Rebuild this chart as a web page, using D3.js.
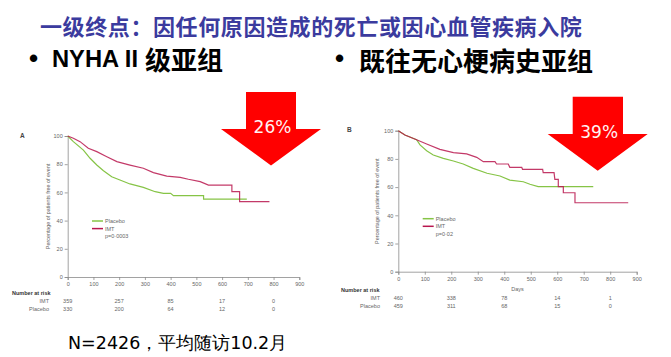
<!DOCTYPE html>
<html><head><meta charset="utf-8">
<script src="https://cdn.jsdelivr.net/npm/d3@7/dist/d3.min.js"></script>
<style>body{margin:0;background:#fff;}svg{display:block;}</style>
</head><body>
<script>
// ---- data ----
const titleText = "一级终点：因任何原因造成的死亡或因心血管疾病入院";
const subLeft = ["NYHA II", "级亚组"];
const subRight = "既往无心梗病史亚组";
const footText = "N=2426，平均随访10.2月";
const xTicks = [0,100,200,300,400,500,600,700,800,900];
const yTicks = [0,20,40,60,80,100];
const riskDays = [0,200,400,600,800];
const riskA_IMT = [359,257,85,17,0];
const riskA_Placebo = [330,200,64,12,0];
const riskB_IMT = [460,338,78,14,1];
const riskB_Placebo = [459,311,68,15,0];
const reductionA = "26%";
const reductionB = "39%";
const pA = "p=0·0003";
const pB = "p=0·02";
const kmA_IMT = [[0,100],[22,98.4],[48,96],[80,91.3],[113,88.9],[152,85.3],[191,81.8],[242,79.4],[294,77.1],[333,74],[385,71.6],[437,70.7],[469,69.3],[515,67.6],[547,65.2],[638,65.2],[638,60.5],[668,60.5],[668,53.4],[784,53.4]];
const kmA_Placebo = [[0,100],[22,96],[61,90],[87,84.2],[113,79.4],[139,75.4],[171,71.1],[203,68.8],[242,66],[294,63.6],[340,60.5],[372,59.3],[400,59.3],[411,57.7],[528,57.7],[528,55.3],[696,55.3]];
const kmB_IMT = [[0,100],[25,97],[69,93.6],[107,90.6],[157,86.8],[208,84.4],[258,83.5],[296,81.1],[321,78],[365,78],[371,76.4],[415,76.4],[421,74],[466,74],[469,72.6],[545,72.6],[547,70.2],[588,70.2],[591,65.5],[604,65.5],[604,60.3],[623,60.3],[623,56],[667,56],[667,48.9],[868,48.9]];
const kmB_Placebo = [[0,100],[25,97],[69,93.6],[82,89.9],[107,85.8],[132,82.8],[170,80.4],[208,78.5],[245,76.4],[283,73.3],[335,69.8],[384,67.9],[421,65],[472,63.8],[497,62],[528,60.3],[736,60.3]];

// ---- drawing ----
const W = 671, H = 357;
const svg = d3.select("body").append("svg").attr("width", W).attr("height", H);
const cjk = "'Noto Sans CJK SC', 'Noto Sans', sans-serif";
const small = "'Liberation Sans', Arial, sans-serif";
const IMT_C = "#b8164e", PLA_C = "#86c446", AX_C = "#8a8a8a", TX_C = "#666";

svg.append("text").attr("x", 40).attr("y", 25).attr("dominant-baseline", "central")
  .attr("font-family", cjk).attr("font-weight", "bold").attr("font-size", 22)
  .attr("letter-spacing", 0.6).attr("fill", "#3b3b9e").text(titleText);

// subtitles
svg.append("text").attr("x", 29).attr("y", 67).attr("font-family", small).attr("font-weight", "bold")
  .attr("font-size", 26).attr("fill", "#000").text("•");
svg.append("text").attr("x", 52).attr("y", 67).attr("font-family", small).attr("font-weight", "bold")
  .attr("font-size", 24).attr("textLength", 86).attr("lengthAdjust", "spacingAndGlyphs")
  .attr("fill", "#000").text(subLeft[0]);
svg.append("text").attr("x", 145).attr("y", 58).attr("dominant-baseline", "central").attr("font-family", cjk)
  .attr("font-weight", "bold").attr("font-size", 26).attr("fill", "#000").text(subLeft[1]);
svg.append("text").attr("x", 335).attr("y", 67).attr("font-family", small).attr("font-weight", "bold")
  .attr("font-size", 26).attr("fill", "#000").text("•");
svg.append("text").attr("x", 359).attr("y", 59).attr("dominant-baseline", "central").attr("font-family", cjk)
  .attr("font-weight", "bold").attr("font-size", 26).attr("fill", "#000").text(subRight);

svg.append("text").attr("x", 68).attr("y", 349).attr("font-family", "'DejaVu Sans', sans-serif")
  .attr("font-size", 17.5).attr("fill", "#000").text(footText);

function panel(cfg) {
  const x = d3.scaleLinear().domain([0, 900]).range([cfg.x0, cfg.x1]);
  const y = d3.scaleLinear().domain([0, 100]).range([cfg.y0, cfg.y1]);
  const g = svg.append("g");
  const xAxis = d3.axisBottom(x).tickValues(xTicks).tickSize(3).tickPadding(2).tickFormat(d3.format("d"));
  const yAxis = d3.axisLeft(y).tickValues(yTicks).tickSize(3).tickPadding(2).tickFormat(d3.format("d"));
  const gx = g.append("g").attr("transform", `translate(0,${cfg.y0})`).call(xAxis);
  const gy = g.append("g").attr("transform", `translate(${cfg.x0},0)`).call(yAxis);
  [gx, gy].forEach(a => {
    a.select(".domain").attr("stroke", AX_C).attr("stroke-width", 0.8);
    a.selectAll(".tick line").attr("stroke", AX_C).attr("stroke-width", 0.8);
    a.selectAll(".tick text").attr("fill", TX_C).attr("font-size", 5.5).attr("font-family", small);
  });
  // y label
  g.append("text").attr("transform", `translate(${cfg.ylabX},${(cfg.y0 + cfg.y1) / 2}) rotate(-90)`)
    .attr("text-anchor", "middle").attr("dominant-baseline", "central")
    .attr("font-size", 5.4).attr("font-family", small).attr("fill", TX_C)
    .text("Percentage of patients free of event");
  g.append("text").attr("x", cfg.labX).attr("y", cfg.labY).attr("dominant-baseline", "central")
    .attr("font-size", 6.5).attr("font-weight", "bold").attr("font-family", small).attr("fill", "#444").text(cfg.label);
  // curves
  const line = d3.line().x(d => x(d[0])).y(d => y(d[1]));
  g.append("path").datum(cfg.pla).attr("d", line).attr("fill", "none").attr("stroke", PLA_C).attr("stroke-width", 1.2);
  g.append("path").datum(cfg.imt).attr("d", line).attr("fill", "none").attr("stroke", IMT_C).attr("stroke-width", 1.2).attr("stroke-opacity", 0.85);
  // legend
  const lg = [[ "Placebo", PLA_C ], [ "IMT", IMT_C ]];
  lg.forEach((d, i) => {
    const yy = cfg.legY + i * 7.6;
    g.append("line").attr("x1", cfg.legX).attr("x2", cfg.legX + 11).attr("y1", yy).attr("y2", yy)
      .attr("stroke", d[1]).attr("stroke-width", 1.5);
    g.append("text").attr("x", cfg.legX + 13).attr("y", yy).attr("dominant-baseline", "central")
      .attr("font-size", 5.5).attr("font-family", small).attr("fill", TX_C).text(d[0]);
  });
  g.append("text").attr("x", cfg.legX + 13).attr("y", cfg.legY + 15.2).attr("dominant-baseline", "central")
    .attr("font-size", 5.5).attr("font-family", small).attr("fill", TX_C).text(cfg.p);
  if (cfg.days) {
    g.append("text").attr("x", x(450)).attr("y", cfg.y0 + 17.5).attr("text-anchor", "middle").attr("dominant-baseline", "central")
      .attr("font-size", 5.5).attr("font-family", small).attr("fill", TX_C).text("Days");
  }
  // number at risk
  g.append("text").attr("x", cfg.narX).attr("y", cfg.narY).attr("dominant-baseline", "central")
    .attr("font-size", 5.5).attr("font-weight", "bold").attr("font-family", small).attr("fill", "#333").text("Number at risk");
  [["IMT", cfg.rImt], ["Placebo", cfg.rPla]].forEach((r, i) => {
    const yy = cfg.narY + 8 * (i + 1);
    g.append("text").attr("x", cfg.rowX).attr("y", yy).attr("text-anchor", "end").attr("dominant-baseline", "central")
      .attr("font-size", 5.5).attr("font-family", small).attr("fill", TX_C).text(r[0]);
    g.selectAll(null).data(riskDays).enter().append("text")
      .attr("x", d => x(d)).attr("y", yy).attr("text-anchor", "middle").attr("dominant-baseline", "central")
      .attr("font-size", 5.5).attr("font-family", small).attr("fill", TX_C)
      .text((d, j) => r[1][j]);
  });
  // arrow
  const a = cfg.arrow;
  svg.append("path").attr("d",
    `M${a.sx0},${a.top}L${a.sx1},${a.top}L${a.sx1},${a.hy}L${a.hx1},${a.hy}L${a.tx},${a.ty}L${a.hx0},${a.hy}L${a.sx0},${a.hy}Z`)
    .attr("fill", "#ff0000");
  svg.append("text").attr("x", a.tx + 1.5).attr("y", a.hy + 4).attr("text-anchor", "middle")
    .attr("font-family", "'DejaVu Sans', sans-serif").attr("font-size", 17).attr("fill", "#fff3f3").text(cfg.red);
}

panel({ x0: 67.7, x1: 299.3, y0: 277, y1: 136, label: "A", labX: 20, labY: 135, ylabX: 47.7,
  imt: kmA_IMT, pla: kmA_Placebo, legX: 92, legY: 221, p: pA, days: false,
  narX: 12, narY: 292.7, rowX: 49, rImt: riskA_IMT, rPla: riskA_Placebo, red: reductionA,
  arrow: { sx0: 246, sx1: 296, top: 92, hy: 129, hx0: 221, hx1: 321, tx: 271, ty: 165.5 } });
panel({ x0: 398.3, x1: 636.7, y0: 271.7, y1: 130.7, label: "B", labX: 347, labY: 129, ylabX: 377,
  imt: kmB_IMT, pla: kmB_Placebo, legX: 422.7, legY: 218.7, p: pB, days: true,
  narX: 341, narY: 290, rowX: 380, rImt: riskB_IMT, rPla: riskB_Placebo, red: reductionB,
  arrow: { sx0: 572.7, sx1: 623, top: 96.7, hy: 134, hx0: 547.7, hx1: 647.7, tx: 597.7, ty: 170.7 } });
</script>
</body></html>
